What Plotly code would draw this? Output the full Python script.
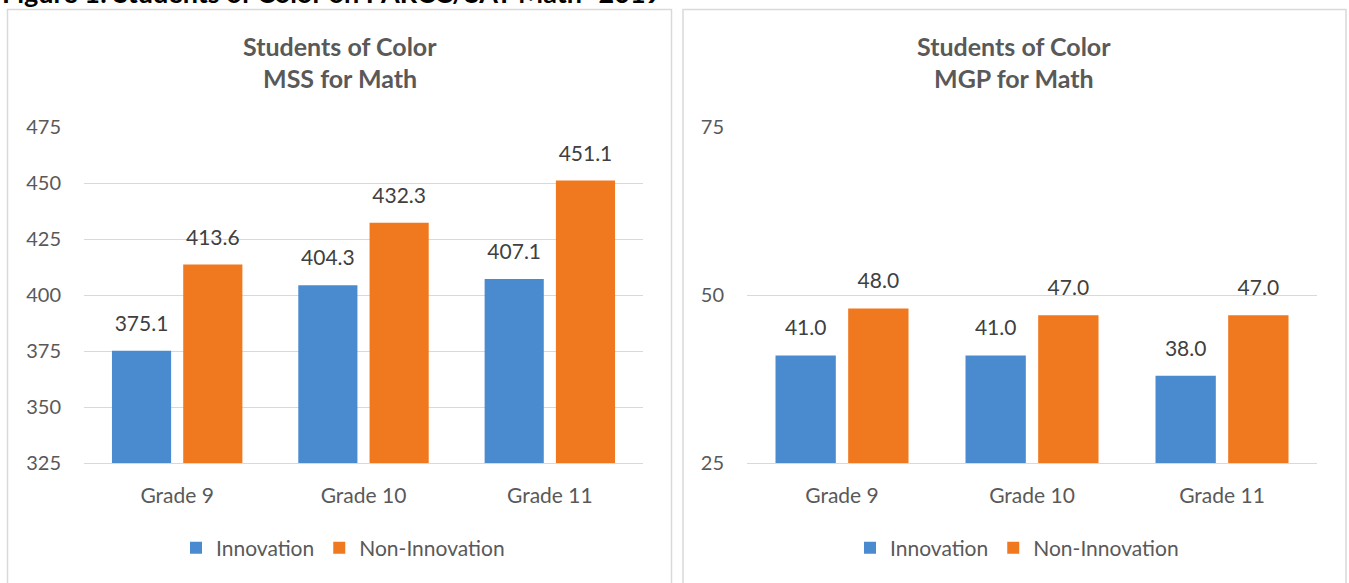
import plotly.graph_objects as go

# ---- data ----
categories = ["Grade 9", "Grade 10", "Grade 11"]
series_names = ["Innovation", "Non-Innovation"]
mss_innovation = [375.1, 404.3, 407.1]
mss_non_innovation = [413.6, 432.3, 451.1]
mgp_innovation = [41.0, 41.0, 38.0]
mgp_non_innovation = [48.0, 47.0, 47.0]
mss_ticks = [325, 350, 375, 400, 425, 450, 475]
mgp_ticks = [25, 50, 75]
left_title = ["Students of Color", "MSS for Math"]
right_title = ["Students of Color", "MGP for Math"]
caption = "Figure 1: Students of Color on PARCC/SAT Math- 2019"

# ---- style ----
W, H = 1349, 583
ML, MR, MT, MB = 84, 32, 127, 120
PW = W - ML - MR
PH = H - MT - MB
BLUE = "#4a8bcf"
ORANGE = "#f0781f"
TXT = "#595959"
LBL = "#404040"
GRID = "#d9d9d9"
FONT = "Lato"
BARGAP = 0.235


def px(X):
    return (X - ML) / PW


def py(Y):
    return (H - MB - Y) / PH


fig = go.Figure()


def add_pair(inn, non, xa, ya, leg):
    pairs = [(series_names[0], inn, BLUE), (series_names[1], non, ORANGE)]
    for i, (name, vals, col) in enumerate(pairs):
        fig.add_trace(go.Bar(
            x=categories, y=vals, name=name, xaxis=xa, yaxis=ya, legend=leg,
            offsetgroup=str(i), marker=dict(color=col, line=dict(width=0)),
            hoverinfo="skip",
        ))
    for i, (name, vals, col) in enumerate(pairs):
        fig.add_trace(go.Scatter(
            x=categories, y=vals, xaxis=xa, yaxis=ya, showlegend=False,
            offsetgroup=str(i), mode="markers+text",
            marker=dict(size=22, opacity=0),
            text=["%.1f" % v for v in vals], textposition="top center",
            textfont=dict(family=FONT, size=21, color=LBL),
            cliponaxis=False, hoverinfo="skip",
        ))


add_pair(mss_innovation, mss_non_innovation, "x", "y", "legend")
add_pair(mgp_innovation, mgp_non_innovation, "x2", "y2", "legend2")

axis_common = dict(
    showgrid=False, showline=True, linecolor=GRID, linewidth=1,
    ticks="", tickfont=dict(family=FONT, size=21, color=TXT),
    ticklabelstandoff=14,
)
yaxis_common = dict(
    showgrid=True, gridcolor=GRID, gridwidth=1, zeroline=False,
    showline=False, ticks="", tickfont=dict(family=FONT, size=20, color=TXT),
    ticklabelstandoff=22, tickmode="array",
)
legend_common = dict(
    orientation="h", xanchor="center", y=py(548), yanchor="middle",
    font=dict(family=FONT, size=21, color=TXT), itemwidth=30,
    bgcolor="rgba(0,0,0,0)",
)

fig.update_layout(
    width=W, height=H,
    margin=dict(l=ML, r=MR, t=MT, b=MB, autoexpand=False),
    paper_bgcolor="white", plot_bgcolor="white",
    barmode="group", bargap=BARGAP, bargroupgap=0.17,
    scattermode="group", scattergap=BARGAP,
    font=dict(family=FONT, color=TXT),
    xaxis=dict(domain=[0, px(643)], anchor="y", **axis_common),
    xaxis2=dict(domain=[px(747), 1], anchor="y2", **axis_common),
    yaxis=dict(domain=[0, 1], anchor="x", range=[mss_ticks[0], mss_ticks[-1]],
               tickvals=mss_ticks, **yaxis_common),
    yaxis2=dict(domain=[0, 1], anchor="x2", range=[mgp_ticks[0], mgp_ticks[-1]],
                tickvals=mgp_ticks, **yaxis_common),
    legend=dict(x=px(343), **legend_common),
    legend2=dict(x=px(1017), **legend_common),
    showlegend=True,
)

# panel borders
for x0, x1 in [(7.5, 671.5), (683, 1346)]:
    fig.add_shape(type="rect", xref="paper", yref="paper",
                  x0=px(x0), x1=px(x1), y0=py(600), y1=py(9.5),
                  line=dict(color=GRID, width=1.5), fillcolor="rgba(0,0,0,0)", layer="below")

# titles
for cx, lines in [(340, left_title), (1014, right_title)]:
    for Y, t in zip([46, 78], lines):
        fig.add_annotation(text="<b>%s</b>" % t, xref="paper", yref="paper",
                           x=px(cx), y=py(Y), xanchor="center", yanchor="middle",
                           showarrow=False, font=dict(family=FONT, size=25, color=TXT))

# clipped caption at the top
fig.add_annotation(text="<b>%s</b>" % caption, xref="paper", yref="paper",
                   x=px(0), y=py(-8), xanchor="left", yanchor="middle",
                   showarrow=False, font=dict(family=FONT, size=27, color="#000000"))

fig.write_html("out.html", config={"displayModeBar": False},
               post_script="document.body.style.margin='0';")
